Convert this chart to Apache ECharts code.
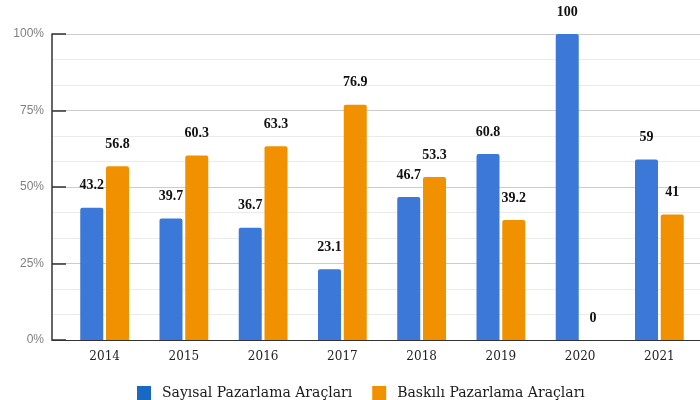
<!DOCTYPE html>
<html>
<head>
<meta charset="utf-8">
<script src="https://cdn.jsdelivr.net/npm/echarts@6/dist/echarts.min.js"></script>
<style>
  html, body { margin: 0; padding: 0; background: #fff; }
  #chart { width: 700px; height: 400px; }
</style>
</head>
<body>
<div id="chart"></div>
<script>
// Yearly share of digital vs. printed marketing tools (%)
const years = ['2014', '2015', '2016', '2017', '2018', '2019', '2020', '2021'];
const digitalShare = [43.2, 39.7, 36.7, 23.1, 46.7, 60.8, 100, 59];
const printShare = [56.8, 60.3, 63.3, 76.9, 53.3, 39.2, 0, 41];
const seriesNames = ['Sayısal Pazarlama Araçları', 'Baskılı Pazarlama Araçları'];
const seriesColors = ['#3c78d8', '#f29100'];
const legendColors = ['#1769c4', '#f29100'];

const chart = echarts.init(document.getElementById('chart'));

const barLabel = {
  show: true,
  position: 'top',
  distance: 15,
  color: '#111',
  fontFamily: 'Liberation Serif',
  fontWeight: 'bold',
  fontSize: 14
};

chart.setOption({
  animation: false,
  legend: {
    top: 381,
    left: 132,
    itemWidth: 14,
    itemHeight: 14,
    itemGap: 20,
    icon: 'rect',
    textStyle: {
      fontFamily: 'DejaVu Serif',
      fontSize: 14,
      color: '#1a1a1a',
      padding: [0, 0, 0, 6]
    },
    data: seriesNames.map((n, i) => ({ name: n, itemStyle: { color: legendColors[i] } }))
  },
  grid: [
    // frame grid: value axis, gridlines and baseline
    { left: 52, right: 0, top: 34, bottom: 60 },
    // bars grid
    { left: 65, right: 1, top: 34, bottom: 60 }
  ],
  xAxis: [
    {
      gridIndex: 0, type: 'value', min: 0, max: 1,
      axisLine: { show: true, lineStyle: { color: '#333', width: 1 } },
      axisTick: { show: false }, axisLabel: { show: false }, splitLine: { show: false }
    },
    {
      gridIndex: 1, type: 'category', data: years,
      axisLine: { show: false }, axisTick: { show: false },
      axisLabel: { margin: 11, color: '#222', fontFamily: 'DejaVu Serif', fontSize: 12 }
    }
  ],
  yAxis: [
    {
      gridIndex: 0, type: 'value', min: 0, max: 100, interval: 25,
      axisLine: { show: true, lineStyle: { color: '#333', width: 1.5 } },
      axisTick: { show: true, inside: true, length: 14, lineStyle: { color: '#333', width: 1.5 } },
      axisLabel: { formatter: '{value}%', color: '#808080', fontFamily: 'Liberation Sans', fontSize: 12, margin: 8 },
      splitLine: { show: true, lineStyle: { color: '#cccccc' } },
      minorTick: { show: false, splitNumber: 3 },
      minorSplitLine: { show: true, lineStyle: { color: '#ebebeb' } }
    },
    {
      gridIndex: 1, type: 'value', min: 0, max: 100, show: false
    }
  ],
  series: [
    {
      name: seriesNames[0], type: 'bar', xAxisIndex: 1, yAxisIndex: 1,
      data: digitalShare, barWidth: 23, barGap: '12%',
      itemStyle: { color: seriesColors[0], borderRadius: [2, 2, 0, 0] },
      label: barLabel
    },
    {
      name: seriesNames[1], type: 'bar', xAxisIndex: 1, yAxisIndex: 1,
      data: printShare, barWidth: 23,
      itemStyle: { color: seriesColors[1], borderRadius: [2, 2, 0, 0] },
      label: barLabel
    }
  ]
});
</script>
</body>
</html>
